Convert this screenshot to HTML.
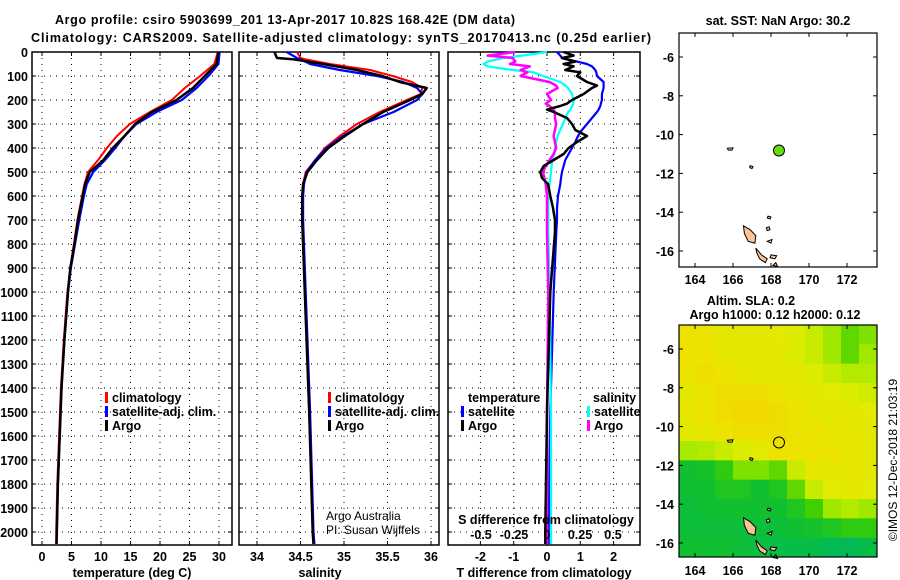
<!DOCTYPE html>
<html><head><meta charset="utf-8"><style>
html,body{margin:0;padding:0;background:#fff;}
svg{display:block;font-family:"Liberation Sans",Arial,sans-serif;}
.b{font-weight:bold;font-size:12.5px;}
</style></head><body>
<svg id="c" width="900" height="580" viewBox="0 0 900 580"></svg>
<script>
// ---------- data ----------
const depthT = [0,50,100,150,200,250,300,350,400,450,500,550,600,700,800,900,1000,1200,1400,1600,1800,2000,2050];
const tempArgo = [29.9,29.6,27.6,25.6,22.8,18.6,15.8,14.0,12.0,10.4,8.1,7.3,6.9,6.1,5.5,4.8,4.4,3.8,3.3,3.0,2.7,2.5,2.45];
const tempClim = [29.8,29.2,26.8,24.2,22.0,18.3,14.9,12.7,11.0,9.5,7.8,7.2,6.8,6.0,5.4,4.8,4.3,3.7,3.2,2.9,2.6,2.4,2.4];
const tempSat  = [30.1,29.9,28.2,26.2,23.7,19.4,16.0,14.0,12.4,10.7,8.7,7.6,7.1,6.3,5.6,4.9,4.4,3.8,3.3,3.0,2.7,2.5,2.45];
const depthS = [0,25,30,50,75,100,125,150,175,200,250,300,350,400,450,500,550,600,700,1000,1500,2000,2050];
const salArgo = [34.2,34.23,34.41,34.76,35.15,35.44,35.64,35.95,35.9,35.76,35.45,35.22,35.01,34.82,34.69,34.58,34.53,34.52,34.52,34.55,34.6,34.64,34.65];
const salClim = [34.46,34.5,34.55,34.84,35.3,35.56,35.78,35.9,35.88,35.72,35.41,35.15,34.95,34.78,34.67,34.56,34.53,34.52,34.52,34.55,34.6,34.64,34.65];
const salSat  = [34.34,34.46,34.5,34.61,34.95,35.38,35.68,35.84,35.9,35.84,35.57,35.22,34.99,34.8,34.67,34.57,34.54,34.53,34.53,34.56,34.61,34.65,34.66];
const depthD = [0,15,25,40,50,60,75,85,100,125,140,150,175,200,215,225,240,250,275,300,325,350,375,400,425,450,475,500,525,550,600,650,700,750,1000,1500,2000,2050];
const dTSat  = [0.3,0.4,0.45,0.9,1.2,1.35,1.45,1.48,1.5,1.7,1.7,1.7,1.65,1.65,1.62,1.6,1.55,1.5,1.35,1.2,1.05,0.93,0.85,0.75,0.65,0.55,0.5,0.45,0.42,0.4,0.33,0.3,0.3,0.28,0.2,0.1,0.05,0.05];
const dTArgo = [0.5,0.8,0.45,0.85,0.5,0.8,0.55,1.0,0.9,1.2,1.5,1.35,1.1,0.75,0.6,0.4,0.0,0.2,0.6,0.75,0.85,1.2,0.9,0.65,0.5,0.2,-0.1,-0.2,-0.15,0.03,0.1,0.18,0.24,0.24,0.1,0.0,-0.05,-0.05];
const dSSat  = [0.0,-0.19,-0.33,-0.45,-0.48,-0.45,-0.26,-0.1,-0.03,0.1,0.14,0.16,0.19,0.2,0.2,0.19,0.18,0.16,0.14,0.12,0.1,0.08,0.07,0.06,0.055,0.04,0.035,0.03,0.025,0.02,0.01,0.01,0.01,0.01,0.02,0.03,0.03,0.03];
const dSArgo = [-0.24,-0.45,-0.26,-0.24,-0.28,-0.13,-0.2,-0.15,-0.2,0.02,0.07,0.08,0.0,0.03,-0.01,0.02,0.05,0.06,0.06,0.07,0.06,0.05,0.06,0.07,0.05,0.02,-0.01,-0.03,-0.02,-0.01,0.0,0.0,0.0,0.0,0.01,0.0,0.0,0.0];
const depthTicks = [0,100,200,300,400,500,600,700,800,900,1000,1100,1200,1300,1400,1500,1600,1700,1800,1900,2000];
const tempTicks = [0,5,10,15,20,25,30];
const salTicks = [34,34.5,35,35.5,36];
const salTickLabels = ["34","34.5","35","35.5","36"];
const dTTicks = [-2,-1,0,1,2];
const dSTicks = [-0.5,-0.25,0,0.25,0.5];
const dSTickLabels = ["-0.5","-0.25","0","0.25","0.5"];
const lonTicks = [164,166,168,170,172];
const latTicks = [-6,-8,-10,-12,-14,-16];
const argoLon = 168.42, argoLat = -10.82;
const slaGrid = [
 [.85,.85,.8,.8,.8,.78,.75,.7,.6,.5,.55],
 [.85,.85,.82,.8,.8,.8,.75,.7,.6,.5,.6],
 [.85,.87,.85,.82,.8,.8,.8,.75,.7,.65,.65],
 [.8,.85,.88,.88,.88,.85,.82,.8,.78,.75,.72],
 [.82,.85,.88,.9,.9,.88,.85,.82,.8,.8,.78],
 [.8,.82,.85,.88,.88,.88,.85,.85,.82,.82,.8],
 [.62,.65,.7,.75,.78,.85,.85,.85,.85,.82,.8],
 [.3,.32,.4,.55,.55,.5,.7,.8,.8,.82,.8],
 [.3,.3,.35,.35,.3,.35,.5,.7,.78,.8,.78],
 [.28,.3,.3,.3,.3,.3,.35,.45,.6,.65,.6],
 [.28,.28,.28,.28,.28,.28,.3,.32,.35,.4,.4],
 [.3,.3,.3,.28,.26,.25,.25,.25,.22,.22,.25]];
const islands = [
 [[166.55,-14.7],[166.9,-14.9],[167.2,-15.2],[167.15,-15.6],[166.8,-15.5],[166.6,-15.1]],
 [[167.2,-15.85],[167.5,-16.2],[167.8,-16.4],[167.7,-16.6],[167.4,-16.4],[167.25,-16.1]],
 [[168.0,-16.2],[168.3,-16.25],[168.2,-16.4],[167.95,-16.35]],
 [[167.8,-15.5],[168.05,-15.4],[168.0,-15.6]],
 [[167.75,-14.8],[167.9,-14.75],[167.95,-14.9],[167.8,-14.95]],
 [[167.85,-14.2],[168.0,-14.25],[167.95,-14.35],[167.8,-14.3]],
 [[166.9,-11.6],[167.05,-11.65],[167.0,-11.75],[166.88,-11.7]],
 [[165.7,-10.7],[166.0,-10.68],[165.95,-10.8],[165.75,-10.8]],
 [[168.1,-16.75],[168.25,-16.6],[168.35,-16.8]]
];
// ---------- helpers ----------
const svg=document.getElementById('c');
const NS='http://www.w3.org/2000/svg';
function el(tag,attrs,parent){const e=document.createElementNS(NS,tag);for(const k in attrs)e.setAttribute(k,attrs[k]);(parent||svg).appendChild(e);return e;}
function txt(x,y,s,cls,anchor,extra){const t=el('text',Object.assign({x:x,y:y,'text-anchor':anchor||'start'},extra||{}));if(cls)t.setAttribute('class',cls);t.textContent=s;return t;}
const PT=52, PB=545;
const yD=d=>PT+d*0.24;
const xT=v=>42+5.9*v;
const xS=v=>257+87*(v-34);
const xDT=v=>547+33.3*v;
const xDS=v=>547+132*v;
function panel(name,x0,x1){const r=el('rect',{x:x0,y:PT,width:x1-x0,height:PB-PT,fill:'none',stroke:'#000','stroke-width':1.5});
 depthTicks.forEach(d=>{if(d>0){const l=el('line',{x1:x0,x2:x1,y1:yD(d),y2:yD(d),stroke:'#000','stroke-dasharray':'1,5','stroke-width':1});
 el('line',{x1:x0,x2:x0+4,y1:yD(d),y2:yD(d),stroke:'#000'});el('line',{x1:x1-4,x2:x1,y1:yD(d),y2:yD(d),stroke:'#000'});}});}
function vgrid(x){const l=el('line',{x1:x,x2:x,y1:PT,y2:PB,stroke:'#000','stroke-dasharray':'1,5','stroke-width':1});el('line',{x1:x,x2:x,y1:PB-4,y2:PB,stroke:'#000'});el('line',{x1:x,x2:x,y1:PT,y2:PT+4,stroke:'#000'});}
function line(name,xs,ds,xf,color,w){const p=xs.map((v,i)=>xf(v).toFixed(1)+','+yD(ds[i]).toFixed(1)).join(' ');const e=el('polyline',{points:p,fill:'none',stroke:color,'stroke-width':w,'stroke-linejoin':'round'});}
function legend(name,x,y,color,label){const g=el('g',{});el('rect',{x:x,y:y-10,width:3,height:11,fill:color},g);const t=el('text',{x:x+7,y:y,class:'b'},g);t.textContent=label;}
// ---------- titles ----------
let t=txt(285,24,'Argo profile: csiro 5903699_201 13-Apr-2017 10.82S 168.42E (DM data)','b','middle',{'font-size':'14px',textLength:460});
t=txt(341,42,'Climatology: CARS2009. Satellite-adjusted climatology: synTS_20170413.nc (0.25d earlier)','b','middle',{'font-size':'14px',textLength:620});
// ---------- panel 1 ----------
panel('temperature-panel',32,232);
tempTicks.forEach(v=>{vgrid(xT(v));const l=txt(xT(v),561,String(v),'b','middle');});
depthTicks.forEach(d=>{const l=txt(28,yD(d)+5,String(d),'b','end');});
line('temp-climatology-line',tempClim,depthT,xT,'#f00',2);
line('temp-satellite-line',tempSat,depthT,xT,'#00f',2.2);
line('temp-argo-line',tempArgo,depthT,xT,'#000',2.5);
t=txt(132,577,'temperature (deg C)','b','middle');
legend('legend-climatology',105,402,'#f00','climatology');
legend('legend-satellite-adj',105,416,'#00f','satellite-adj. clim.');
legend('legend-argo',105,430,'#000','Argo');
// ---------- panel 2 ----------
panel('salinity-panel',239,439);
salTicks.forEach((v,i)=>{vgrid(xS(v));const l=txt(xS(v),561,salTickLabels[i],'b','middle');});
line('sal-climatology-line',salClim,depthS,xS,'#f00',2);
line('sal-satellite-line',salSat,depthS,xS,'#00f',2.2);
line('sal-argo-line',salArgo,depthS,xS,'#000',2.5);
t=txt(320,577,'salinity','b','middle');
legend('legend-climatology-2',328,402,'#f00','climatology');
legend('legend-satellite-adj-2',328,416,'#00f','satellite-adj. clim.');
legend('legend-argo-2',328,430,'#000','Argo');
t=txt(326,520,'Argo Australia','', 'start',{'font-size':'12px'});
t=txt(326,534,'PI: Susan Wijffels','', 'start',{'font-size':'12px'});
// ---------- panel 3 ----------
panel('difference-panel',448,640);
dTTicks.forEach(v=>{vgrid(xDT(v));const l=txt(xDT(v),561,String(v),'b','middle');});
line('dt-satellite-line',dTSat,depthD,xDT,'#00f',2.2);
line('ds-satellite-line',dSSat,depthD,xDS,'#0ff',2.2);
line('ds-argo-line',dSArgo,depthD,xDS,'#f0f',2.5);
line('dt-argo-line',dTArgo,depthD,xDT,'#000',2.5);
t=txt(544,577,'T difference from climatology','b','middle');
t=txt(546,524,'S difference from climatology','b','middle');
dSTicks.forEach((v,i)=>{const l=txt(xDS(v),539,dSTickLabels[i],'b','middle');});
t=txt(468,402,'temperature','b');
t=txt(593,402,'salinity','b');
legend('legend-t-satellite',461,416,'#00f','satellite');
legend('legend-t-argo',461,430,'#000','Argo');
legend('legend-s-satellite',587,416,'#0ff','satellite');
legend('legend-s-argo',587,430,'#f0f','Argo');
// ---------- maps ----------
function mapAxes(name,y0,y1,latTop,title){
 const X0=679,X1=877;
 const mx=lon=>695+(lon-164)*19;
 const my=lat=>y0+24+(-6-lat)*19.4;
 return {X0,X1,y0,y1,mx,my};
}
function mapFrame(m,name,labY){
 const r=el('rect',{x:m.X0,y:m.y0,width:m.X1-m.X0,height:m.y1-m.y0,fill:'none',stroke:'#000','stroke-width':1.2});
 lonTicks.forEach(v=>{const x=m.mx(v);el('line',{x1:x,x2:x,y1:m.y1,y2:m.y1-4,stroke:'#000'});el('line',{x1:x,x2:x,y1:m.y0,y2:m.y0+4,stroke:'#000'});const l=txt(x,labY,String(v),'b','middle');});
 latTicks.forEach(v=>{const y=m.my(v);el('line',{x1:m.X0,x2:m.X0+4,y1:y,y2:y,stroke:'#000'});el('line',{x1:m.X1,x2:m.X1-4,y1:y,y2:y,stroke:'#000'});const l=txt(674,y+5,String(v),'b','end');});
}
function drawIslands(m){islands.forEach(poly=>{const e=el('polygon',{points:poly.map(p=>m.mx(p[0]).toFixed(1)+','+m.my(p[1]).toFixed(1)).join(' '),fill:'#fcc490',stroke:'#000','stroke-width':1});});}
// map 1
const m1=mapAxes('sst-map',33,267);
t=txt(778,25,'sat. SST: NaN Argo: 30.2','b','middle');
drawIslands(m1);
let c=el('circle',{cx:m1.mx(argoLon),cy:m1.my(argoLat),r:5.5,fill:'#66dd11',stroke:'#000','stroke-width':1});
mapFrame(m1,'sst-map',284);
// map 2
const m2=mapAxes('sla-map',325,557);
t=txt(751,305,'Altim. SLA: 0.2','b','middle');
t=txt(775,319,'Argo h1000: 0.12 h2000: 0.12','b','middle');
const stops=[[0.2,[0,184,96]],[0.3,[16,192,48]],[0.45,[64,208,0]],[0.6,[160,232,0]],[0.75,[220,236,0]],[0.85,[236,228,0]],[0.9,[240,216,0]]];
function cmap(v){if(v<=stops[0][0])return stops[0][1];for(let i=1;i<stops.length;i++){if(v<=stops[i][0]){const a=stops[i-1],b=stops[i],f=(v-a[0])/(b[0]-a[0]);return a[1].map((q,k)=>Math.round(q+(b[1][k]-q)*f));}}return stops[stops.length-1][1];}
const nR=slaGrid.length,nC=slaGrid[0].length,cw=(m2.X1-m2.X0)/nC,ch=(m2.y1-m2.y0)/nR;
slaGrid.forEach((row,i)=>row.forEach((v,j)=>{const col=cmap(v);const r=el('rect',{x:m2.X0+j*cw,y:m2.y0+i*ch,width:cw+0.5,height:ch+0.5,fill:'rgb('+col.join(',')+')'});}));
drawIslands(m2);
c=el('circle',{cx:m2.mx(argoLon),cy:m2.my(argoLat),r:5.5,fill:'none',stroke:'#000','stroke-width':1});
mapFrame(m2,'sla-map',575);
t=txt(0,0,'©IMOS 12-Dec-2018 21:03:19','', 'middle',{'font-size':'12px',transform:'translate(897,460) rotate(-90)'});
</script>
</body></html>
